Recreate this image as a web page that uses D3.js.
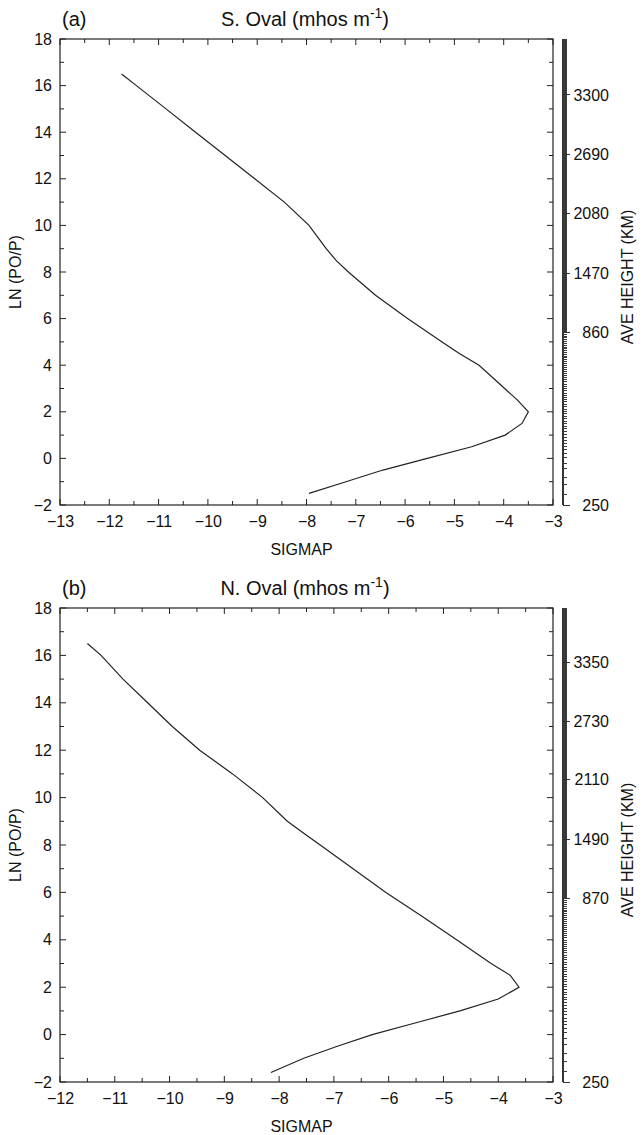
<!DOCTYPE html>
<html>
<head>
<meta charset="utf-8">
<script src="https://cdn.jsdelivr.net/npm/d3@7"></script>
<style>
html,body{margin:0;padding:0;background:#fff;}
svg{display:block;}
text{font-family:"Liberation Sans",Arial,Helvetica,sans-serif;fill:#111;}
</style>
</head>
<body>
<svg id="chart" width="644" height="1135"></svg>
<script>
// ---------- DATA ----------
// Panel (a) S. Oval
const sigmaA = [-11.75,-11.45,-10.85,-10.25,-9.65,-9.05,-8.45,-7.95,-7.6,-7.4,-7.15,-6.6,-5.95,-5.25,-4.9,-4.5,-3.98,-3.72,-3.5,-3.63,-3.97,-4.65,-5.55,-6.45,-7.2,-7.95];
const lnA    = [16.5,16,15,14,13,12,11,10,9,8.5,8,7,6,5,4.5,4,3,2.5,2,1.5,1,0.5,0,-0.5,-1,-1.5];
// Panel (b) N. Oval
const sigmaB = [-11.5,-11.25,-10.85,-10.4,-9.95,-9.45,-8.85,-8.3,-7.85,-7.55,-7.25,-6.65,-6.05,-5.4,-4.76,-4.13,-3.78,-3.62,-4.0,-4.7,-5.5,-6.3,-6.95,-7.55,-8.15];
const lnB    = [16.5,16,15,14,13,12,11,10,9,8.5,8,7,6,5,4,3,2.5,2,1.5,1,0.5,0,-0.5,-1,-1.6];

// x-axis tick labels
const xTicksA = [-13,-12,-11,-10,-9,-8,-7,-6,-5,-4,-3];
const xTicksB = [-12,-11,-10,-9,-8,-7,-6,-5,-4,-3];
const yTicks = [-2,0,2,4,6,8,10,12,14,16,18];

// right axis: average height (km) vs ln(p0/p)
const heightAnchorsA = [250,260,270,280,290,300,310,320,330,340,400,500,600,700,860,1470,2080,2690,3300,3880];
const lnAnchorsA     = [-2,-1.57,-1.14,-0.8,-0.45,-0.2,0.06,0.23,0.4,0.53,1.28,2.33,3.28,4.16,5.4,7.95,10.5,13.05,15.6,18];
const heightLabelsA  = [250,860,1470,2080,2690,3300];

const heightAnchorsB = [250,260,270,280,290,300,310,320,330,340,400,500,600,700,870,1490,2110,2730,3350,3930];
const lnAnchorsB     = [-2,-1.55,-1.12,-0.78,-0.43,-0.17,0.08,0.26,0.43,0.57,1.35,2.45,3.45,4.35,5.75,8.25,10.75,13.2,15.7,18];
const heightLabelsB  = [250,870,1490,2110,2730,3350];

const panels = [
  {tag:"(a)", title:"S. Oval (mhos m", sigma:sigmaA, ln:lnA, xDom:[-13,-3], xTicks:xTicksA,
   hAnch:heightAnchorsA, lnAnch:lnAnchorsA, hLabels:heightLabelsA, top:39, bottom:505},
  {tag:"(b)", title:"N. Oval (mhos m", sigma:sigmaB, ln:lnB, xDom:[-12,-3], xTicks:xTicksB,
   hAnch:heightAnchorsB, lnAnch:lnAnchorsB, hLabels:heightLabelsB, top:608, bottom:1082}
];

const svg = d3.select("#chart");
const left = 60, right = 553, axX = 563;
const ink = "#222";

panels.forEach(p => {
  const g = svg.append("g");
  const x = d3.scaleLinear().domain(p.xDom).range([left, right]);
  const y = d3.scaleLinear().domain([-2, 18]).range([p.bottom, p.top]);

  // bottom axis labels
  const minorX = d3.range(p.xDom[0], p.xDom[1] + 0.001, 0.5);
  const bottomAxis = d3.axisBottom(x).tickValues(p.xTicks).tickFormat(d3.format("d")).tickSize(0).tickPadding(11);
  const ba = g.append("g").attr("transform", `translate(0,${p.bottom})`).call(bottomAxis);
  ba.select(".domain").remove();
  ba.selectAll("text").attr("font-size", 16).style("font-family", "Liberation Sans, Arial, sans-serif").attr("fill", ink);

  // tick marks inward (bottom & top)
  minorX.forEach(v => {
    const major = Math.abs(v - Math.round(v)) < 1e-6;
    const len = major ? 6 : 4;
    g.append("line").attr("x1", x(v)).attr("x2", x(v)).attr("y1", p.bottom).attr("y2", p.bottom - len).attr("stroke", ink);
    g.append("line").attr("x1", x(v)).attr("x2", x(v)).attr("y1", p.top).attr("y2", p.top + len).attr("stroke", ink);
  });

  // left axis
  const leftAxis = d3.axisLeft(y).tickValues(yTicks).tickFormat(d3.format("d")).tickSize(0).tickPadding(8);
  const la = g.append("g").attr("transform", `translate(${left},0)`).call(leftAxis);
  la.select(".domain").remove();
  la.selectAll("text").attr("font-size", 16).style("font-family", "Liberation Sans, Arial, sans-serif").attr("fill", ink);
  d3.range(-2, 18.001, 1).forEach(v => {
    const major = v % 2 === 0;
    const len = major ? 6 : 4;
    g.append("line").attr("x1", left).attr("x2", left + len).attr("y1", y(v)).attr("y2", y(v)).attr("stroke", ink);
    g.append("line").attr("x1", right).attr("x2", right - len).attr("y1", y(v)).attr("y2", y(v)).attr("stroke", ink);
  });

  // frame
  g.append("rect").attr("x", left).attr("y", p.top).attr("width", right - left).attr("height", p.bottom - p.top)
    .attr("fill", "none").attr("stroke", ink).attr("stroke-width", 1.2);

  // curve
  const pts = p.sigma.map((s, i) => [s, p.ln[i]]);
  g.append("path").datum(pts)
    .attr("d", d3.line().x(d => x(d[0])).y(d => y(d[1])))
    .attr("fill", "none").attr("stroke", ink).attr("stroke-width", 1.2);

  // right height axis
  const hToLn = d3.scaleLinear().domain(p.hAnch).range(p.lnAnch);
  const hMax = p.hAnch[p.hAnch.length - 1];
  const hTicks = d3.range(250, hMax + 0.1, 10);
  const rg = g.append("g").attr("shape-rendering", "crispEdges");
  rg.append("line").attr("x1", axX).attr("x2", axX).attr("y1", p.top).attr("y2", p.bottom).attr("stroke", "#333").attr("stroke-width", 1.5);
  hTicks.forEach(h => {
    const yy = y(hToLn(h));
    rg.append("line").attr("x1", axX).attr("x2", axX + 4).attr("y1", yy).attr("y2", yy).attr("stroke", "#3a3a3a").attr("stroke-width", 1);
  });
  p.hLabels.forEach(h => {
    const yy = y(hToLn(h));
    rg.append("line").attr("x1", axX).attr("x2", axX + 7).attr("y1", yy).attr("y2", yy).attr("stroke", "#333");
    g.append("text").attr("x", 609).attr("y", yy).attr("dy", "0.35em").attr("text-anchor", "end")
      .attr("font-size", 16).attr("fill", ink).text(h);
  });

  // axis titles
  g.append("text").attr("transform", `translate(21,${(p.top + p.bottom) / 2}) rotate(-90)`)
    .attr("text-anchor", "middle").attr("font-size", 16).attr("fill", ink).text("LN (PO/P)");
  g.append("text").attr("transform", `translate(633,${(p.top + p.bottom) / 2 + 5}) rotate(-90)`)
    .attr("text-anchor", "middle").attr("font-size", 16).attr("fill", ink).text("AVE HEIGHT (KM)");
  g.append("text").attr("x", (left + right) / 2 - 5).attr("y", p.bottom + 50)
    .attr("text-anchor", "middle").attr("font-size", 16).attr("fill", ink).text("SIGMAP");

  // title
  const t = g.append("text").attr("x", 305).attr("y", p.top - 13).attr("text-anchor", "middle").attr("font-size", 20).attr("fill", ink);
  t.append("tspan").text(p.title);
  t.append("tspan").attr("font-size", 14).attr("dy", -8).text("-1");
  t.append("tspan").attr("dy", 8).text(")");
  g.append("text").attr("x", 62).attr("y", p.top - 13).attr("font-size", 20).attr("fill", ink).text(p.tag);
});
</script>
</body>
</html>
